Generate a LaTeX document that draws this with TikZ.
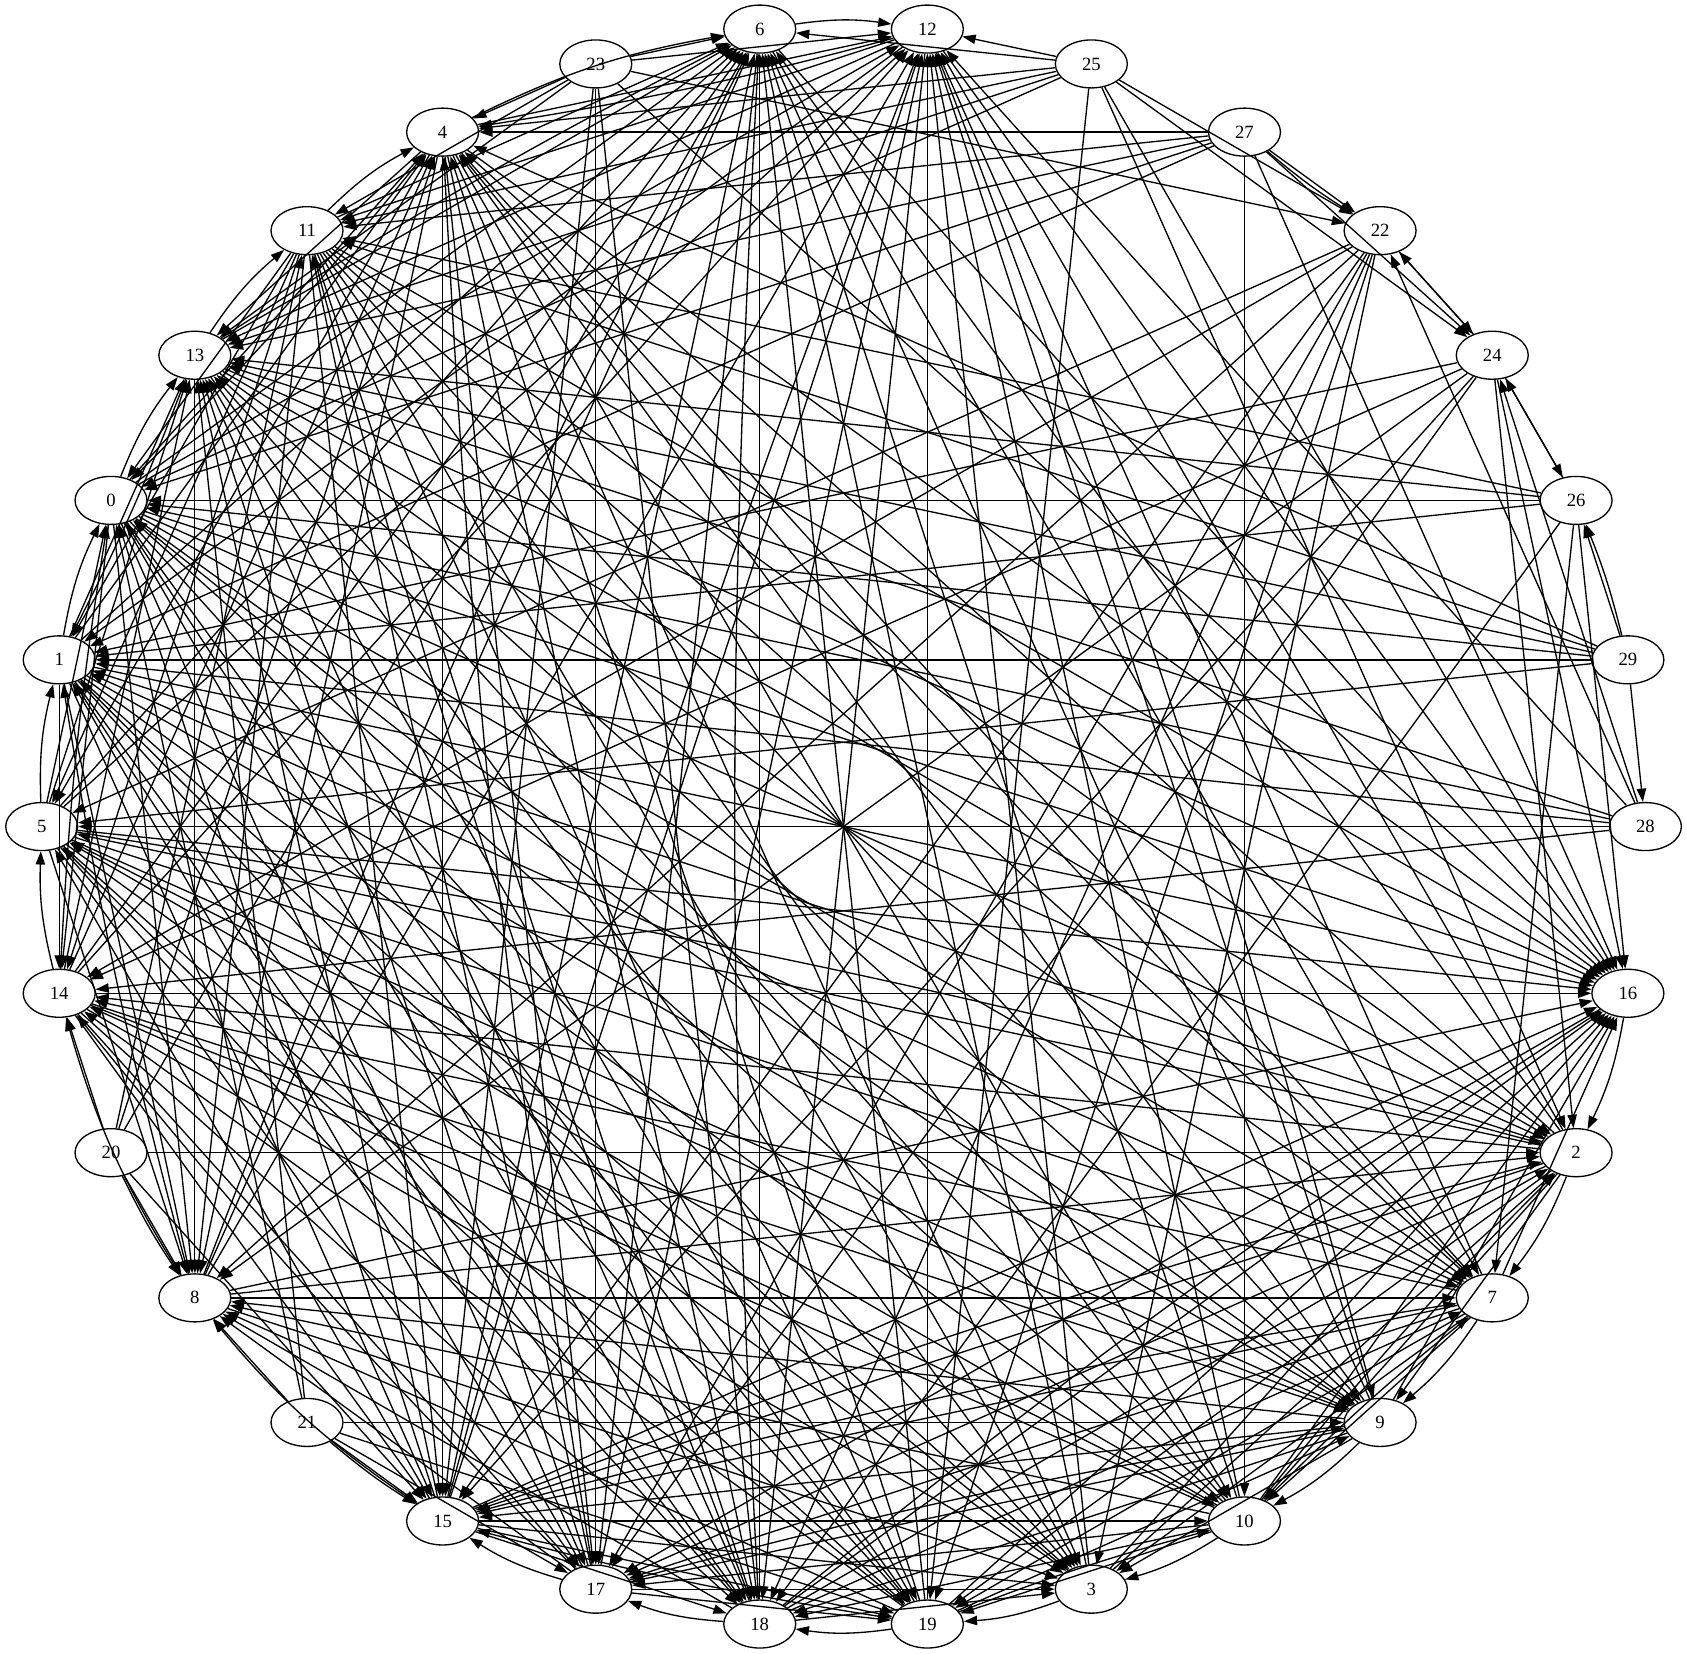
\documentclass[tikz,border=0pt]{standalone}
\usepackage{fontspec}
\setmainfont{Liberation Serif}
\usetikzlibrary{shapes.geometric,arrows.meta}
\tikzset{
  n/.style={draw, ellipse, minimum width=2.7pt, minimum height=1.8pt, inner sep=0pt, line width=0.05pt, font=\fontsize{0.7pt}{0.8pt}\selectfont},
  e/.style={line width=0.05pt, -{Triangle[length=0.5pt,width=0.35pt]}}
}
\begin{document}
\begin{tikzpicture}[x=0.0375pt,y=0.0375pt]
\useasboundingbox (-843.6,-827.3) rectangle (843.4,826.7);
% nodes on the circle
\foreach \nm/\ang in {6/96,12/84,25/72,27/60,22/48,24/36,26/24,29/12,28/0,16/-12,2/-24,7/-36,9/-48,10/-60,3/-72,19/-84,18/-96,17/-108,15/-120,21/-132,8/-144,20/-156,14/-168,5/180,1/168,0/156,13/144,11/132,4/120,23/108}{
  \node[n] (\nm) at (\ang:801.9) {\nm};
}
% core edges among nodes 0..19
\def\qarr{{14,13,1,5,17,12,18,2,10,3,4,16,19,15,11,9,0,8,7,6}}
\foreach \i in {0,...,18}{
  \pgfmathtruncatemacro\s{\i+1}
  \foreach \j in {\s,...,19}{
    \pgfmathtruncatemacro\qi{\qarr[\i]}
    \pgfmathtruncatemacro\qj{\qarr[\j]}
    \pgfmathtruncatemacro\dd{abs(\qi-\qj)}
    \pgfmathtruncatemacro\hh{mod(\i*7+\j*11+\i*\j*3,5)}
    \pgfmathtruncatemacro\intoj{or(\j==6,or(\j==12,\j==16)) ? (\hh!=0) : (or(\i==6,or(\i==12,\i==16)) ? (\hh==0) : (\hh>=2))}
    \ifnum\dd=1
      \ifnum\qi<\qj \draw[e,bend left=8] (\i) to (\j); \else \draw[e,bend left=8] (\j) to (\i); \fi
    \else
      \ifnum\intoj=1 \draw[e] (\i) -- (\j); \else \draw[e] (\j) -- (\i); \fi
      \ifnum\hh=4 \draw[e,bend left=3] (\j) to (\i); \fi
    \fi
  }
}
% edges of the outer nodes 20..29
\foreach \a/\b in {
  23/6,23/4,23/12,23/11,23/17,23/18,23/15,23/22,23/16,23/13,
  25/12,25/6,25/4,25/11,25/19,25/22,25/24,25/16,25/2,25/13,25/0,
  27/22,27/24,27/4,27/11,27/13,27/0,27/16,27/10,27/1,
  22/24,22/14,22/8,22/15,22/17,22/18,22/19,22/5,22/3,
  24/22,24/26,24/15,24/17,24/8,24/14,24/16,24/2,24/1,
  26/24,26/0,26/13,26/11,26/1,26/18,26/16,26/7,
  29/26,29/28,29/0,29/13,29/11,29/1,29/5,29/4,
  28/5,28/1,28/0,28/13,28/14,28/22,28/24,28/12,
  20/14,20/8,20/4,20/11,20/6,20/15,20/2,
  21/8,21/15,21/13,21/0,21/19,21/9,21/17}{
  \draw[e] (\a) -- (\b);
}
\foreach \a/\b in {29/26,20/8,21/15,27/22}{
  \draw[e,bend right=4] (\a) to (\b);
}
\end{tikzpicture}
\end{document}
